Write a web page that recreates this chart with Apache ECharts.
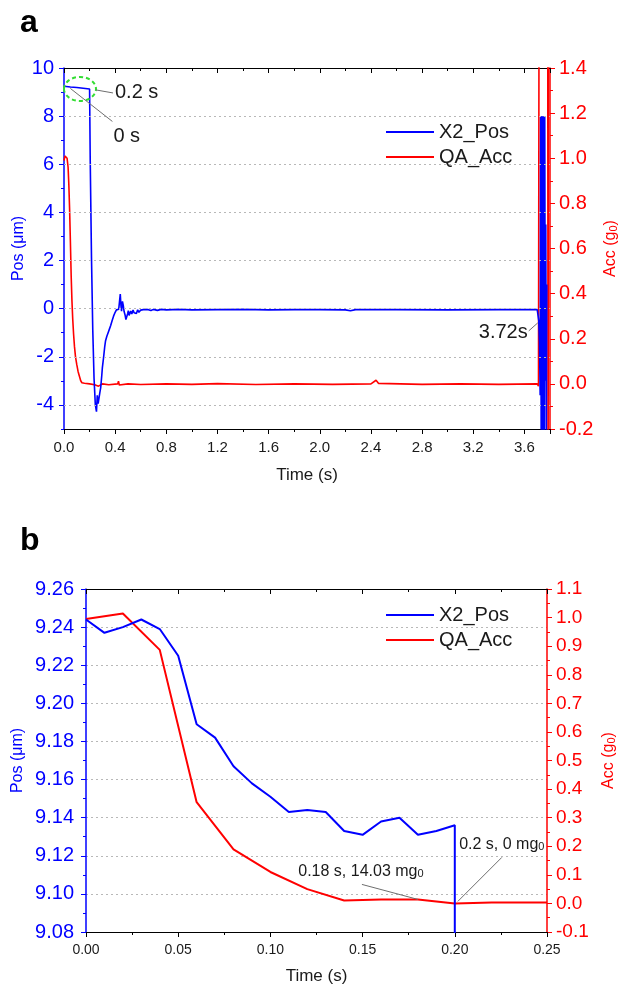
<!DOCTYPE html>
<html><head><meta charset="utf-8">
<script src="https://cdn.jsdelivr.net/npm/echarts@6/dist/echarts.min.js"></script>
<style>html,body{margin:0;padding:0;background:#fff}#c{width:624px;height:988px}</style>
</head><body><div id="c"></div>
<script>
// ---------- Panel a data ----------
const aPosTime = [0,0.05,0.1,0.15,0.2,0.205,0.215,0.225,0.235,0.245,0.254,0.26,0.267,0.274,0.28,0.287,0.295,0.3,0.31,0.318,0.325,0.335,0.345,0.355,0.365,0.376,0.388,0.4,0.41,0.42,0.428,0.435,0.44,0.445,0.45,0.457,0.463,0.47,0.477,0.484,0.49,0.497,0.503,0.509,0.515,0.522,0.53,0.54,0.548,0.556,0.566,0.576,0.586,0.6,0.615,0.63,0.645,0.66,0.68,0.7,0.73,0.76,0.8,0.9,1.0,1.2,1.4,1.6,1.8,2.0,2.2,2.24,2.28,2.6,3.0,3.4,3.7,3.706,3.712,3.718,3.723,3.727,3.731,3.735,3.739,3.743,3.747,3.751,3.755,3.759,3.763,3.767,3.771,3.775];
const aPosVal = [9.24,9.21,9.19,9.16,9.13,6.2,2.1,-0.9,-2.9,-4.0,-4.28,-3.6,-3.95,-3.9,-3.5,-3.28,-2.8,-2.45,-2.0,-1.6,-1.33,-1.15,-1.0,-0.85,-0.7,-0.5,-0.3,-0.15,-0.05,-0.1,-0.02,0.35,0.61,0.15,-0.1,0.3,0.15,-0.12,-0.25,-0.45,-0.5,-0.22,-0.08,-0.28,-0.32,-0.1,-0.22,-0.06,-0.17,-0.09,-0.2,-0.05,-0.15,-0.06,-0.12,-0.03,-0.1,-0.04,-0.08,-0.03,-0.07,-0.03,-0.05,-0.03,-0.05,-0.04,-0.03,-0.05,-0.04,-0.04,-0.05,-0.09,-0.04,-0.04,-0.05,-0.04,-0.04,-0.12,-0.5,-1.4,-3.6,8.0,-5.6,7.5,8.0,-5.6,2.5,8.0,-5.6,8.0,-3.0,3.5,-5.6,1.0];
const aAccTime = [0,0.008,0.016,0.024,0.032,0.038,0.044,0.05,0.056,0.062,0.068,0.075,0.082,0.09,0.1,0.11,0.12,0.13,0.14,0.16,0.2,0.24,0.27,0.3,0.35,0.42,0.426,0.432,0.5,0.6,0.8,1.0,1.2,1.5,1.8,2.1,2.4,2.44,2.46,2.8,3.1,3.4,3.7,3.71,3.712,3.715,3.782,3.785,3.789,3.8];
const aAccVal = [0.99,1.01,1.01,1.0,0.96,0.88,0.77,0.63,0.48,0.37,0.29,0.22,0.165,0.12,0.085,0.055,0.035,0.015,0.005,0.003,0.0,-0.004,-0.01,0.0,-0.004,0.0,0.012,-0.005,0.0,-0.003,0.0,-0.002,0.001,-0.003,0.0,-0.002,0.0,0.016,0.002,-0.002,0.0,-0.002,0.0,-0.01,0.76,2.0,2.0,-0.5,2.0,2.0];
const aPosLabels = [-4,-2,0,2,4,6,8,10];
const aPosMinor = [-5,-3,-1,1,3,5,7,9];
const aPosGrid = [-4,-2,0,2,4,6,8];

// ---------- Panel b data ----------
const bPosTime = [0,0.01,0.02,0.03,0.04,0.05,0.06,0.07,0.08,0.09,0.10,0.11,0.12,0.13,0.14,0.15,0.16,0.17,0.18,0.19,0.20,0.20];
const bPosVal = [9.244,9.237,9.240,9.244,9.239,9.225,9.189,9.182,9.167,9.158,9.151,9.143,9.144,9.143,9.133,9.131,9.138,9.140,9.131,9.133,9.136,9.0];
const bAccTime = [0,0.02,0.04,0.06,0.08,0.10,0.12,0.14,0.16,0.18,0.20,0.22,0.24,0.25];
const bAccVal = [0.995,1.014,0.887,0.354,0.189,0.11,0.05,0.01,0.014,0.014,0.0,0.003,0.003,0.003];

const seriesNames = ['X2_Pos','QA_Acc'];

const FF = "'Liberation Sans', Arial, Helvetica, sans-serif";
const BLUE = '#0000ff', RED = '#ff0000', INK = '#1a1a1a';
const zip = (a,b)=>a.map((t,i)=>[t,b[i]]);
const fx = d => v => (Math.abs(v)<1e-9?0:v).toFixed(d);
const subRich = (fs,color)=>({s:{fontSize:fs,color:color,fontFamily:FF,verticalAlign:'bottom',lineHeight:fs,padding:[Math.round(fs*0.9),0,0,0]}});

const chart = echarts.init(document.getElementById('c'));

function xAxisPair(gi, max, interval, digits, fs, gap) {
  return [
    {gridIndex:gi, type:'value', position:'bottom', min:0, max:max, interval:interval,
     axisLine:{show:true,onZero:false,lineStyle:{color:'#000',width:1.2}},
     axisTick:{show:true,length:5,lineStyle:{color:'#000'}},
     minorTick:{show:true,splitNumber:2,length:3,lineStyle:{color:'#000'}},
     axisLabel:{fontSize:fs,color:INK,margin:11,fontFamily:FF,
       formatter:v=> (v>max-interval/2 && Math.abs(Math.round(v/interval)*interval - v) > 1e-6) ? '' : fx(digits)(v)},
     splitLine:{show:false},
     name:'Time (s)', nameLocation:'middle', nameGap:gap, nameMoveOverlap:false,
     nameTextStyle:{fontSize:17,color:INK,fontFamily:FF}},
    {gridIndex:gi, type:'value', position:'top', min:0, max:max, interval:interval,
     axisLine:{show:true,onZero:false,lineStyle:{color:'#000',width:1.2}},
     axisTick:{show:true,inside:true,length:5,lineStyle:{color:'#000'}},
     minorTick:{show:true,splitNumber:2,length:3,lineStyle:{color:'#000'}},
     axisLabel:{show:false}, splitLine:{show:false}}
  ];
}

const option = {
  animation:false,
  textStyle:{fontFamily:FF},
  grid:[{left:64,top:68,width:486,height:361,containLabel:false,outerBoundsMode:'none'},
        {left:86,top:589,width:461,height:343,containLabel:false,outerBoundsMode:'none'}],
  xAxis:[].concat(xAxisPair(0,3.8,0.4,1,15,38), xAxisPair(1,0.25,0.05,2,14,36)),
  yAxis:[
    {gridIndex:0, type:'value', position:'left', min:-5, max:10, interval:1,
     axisLine:{show:true,onZero:false,lineStyle:{color:BLUE,width:1.5}},
     axisTick:{show:true,length:5,customValues:aPosLabels,lineStyle:{color:BLUE}},
     axisLabel:{color:BLUE,fontSize:20,margin:10,fontFamily:FF,customValues:aPosLabels,
       formatter:v=>{const r=Math.round(v);return (r%2===0 && r>-5)?String(r):'';}},
     splitLine:{show:false},
     name:'Pos (μm)', nameLocation:'middle', nameGap:37, nameRotate:90, nameMoveOverlap:false,
     nameTextStyle:{color:BLUE,fontSize:16,fontFamily:FF}},
    {gridIndex:0, type:'value', position:'right', min:-0.2, max:1.4, interval:0.2,
     axisLine:{show:true,onZero:false,lineStyle:{color:RED,width:1.5}},
     axisTick:{show:true,length:5,lineStyle:{color:RED}},
     minorTick:{show:true,splitNumber:2,length:3,lineStyle:{color:RED}},
     axisLabel:{color:RED,fontSize:20,margin:9,fontFamily:FF,formatter:fx(1)},
     splitLine:{show:false},
     name:'Acc (g{s|0})', nameLocation:'middle', nameGap:53, nameRotate:90, nameMoveOverlap:false,
     nameTextStyle:{color:RED,fontSize:16,fontFamily:FF,rich:subRich(11,RED)}},
    {gridIndex:0, type:'value', position:'left', min:-5, max:10, interval:1,
     axisLine:{show:false,onZero:false},
     axisTick:{show:true,length:3,customValues:aPosMinor,lineStyle:{color:BLUE}},
     axisLabel:{show:false}, splitLine:{show:false}},
    {gridIndex:1, type:'value', position:'left', min:9.08, max:9.26, interval:0.02,
     axisLine:{show:true,onZero:false,lineStyle:{color:BLUE,width:1.5}},
     axisTick:{show:true,length:5,lineStyle:{color:BLUE}},
     minorTick:{show:true,splitNumber:2,length:3,lineStyle:{color:BLUE}},
     axisLabel:{color:BLUE,fontSize:20,margin:12,fontFamily:FF,formatter:fx(2)},
     splitLine:{show:true,lineStyle:{color:'#b8b8b8',type:[2,3],width:1}},
     name:'Pos (μm)', nameLocation:'middle', nameGap:60, nameRotate:90, nameMoveOverlap:false,
     nameTextStyle:{color:BLUE,fontSize:16,fontFamily:FF}},
    {gridIndex:1, type:'value', position:'right', min:-0.1, max:1.1, interval:0.1,
     axisLine:{show:true,onZero:false,lineStyle:{color:RED,width:1.5}},
     axisTick:{show:true,length:5,lineStyle:{color:RED}},
     minorTick:{show:true,splitNumber:2,length:3,lineStyle:{color:RED}},
     axisLabel:{color:RED,fontSize:19,margin:9,fontFamily:FF,formatter:fx(1)},
     splitLine:{show:false},
     name:'Acc (g{s|0})', nameLocation:'middle', nameGap:54, nameRotate:90, nameMoveOverlap:false,
     nameTextStyle:{color:RED,fontSize:16,fontFamily:FF,rich:subRich(11,RED)}}
  ],
  legend:[
    {data:seriesNames, orient:'vertical', left:386, top:122, icon:'rect', itemWidth:48, itemHeight:2, itemGap:5, padding:0, selectedMode:false,
     textStyle:{fontSize:20,lineHeight:20,color:INK,fontFamily:FF}},
    {data:seriesNames, orient:'vertical', left:386, top:605, icon:'rect', itemWidth:48, itemHeight:2, itemGap:5, padding:0, selectedMode:false,
     textStyle:{fontSize:20,lineHeight:20,color:INK,fontFamily:FF}}
  ],
  series:[
    {name:'_gridA', type:'line', xAxisIndex:0, yAxisIndex:0, data:[], silent:true, z:1,
     markLine:{silent:true, symbol:['none','none'], label:{show:false},
       lineStyle:{color:'#b8b8b8',type:[2,3],width:1}, data:aPosGrid.map(v=>({yAxis:v}))}},
    {name:'QA_Acc', type:'line', xAxisIndex:0, yAxisIndex:1, data:zip(aAccTime,aAccVal), symbol:'none', clip:true,
     lineStyle:{color:RED,width:1.6}, itemStyle:{color:RED}, z:2},
    {name:'X2_Pos', type:'line', xAxisIndex:0, yAxisIndex:0, data:zip(aPosTime,aPosVal), symbol:'none', clip:true,
     lineStyle:{color:BLUE,width:1.6}, itemStyle:{color:BLUE}, z:3},
    {name:'QA_Acc', type:'line', xAxisIndex:2, yAxisIndex:4, data:zip(bAccTime,bAccVal), symbol:'none', clip:true,
     lineStyle:{color:RED,width:2}, itemStyle:{color:RED}, z:2},
    {name:'X2_Pos', type:'line', xAxisIndex:2, yAxisIndex:3, data:zip(bPosTime,bPosVal), symbol:'none', clip:true,
     lineStyle:{color:BLUE,width:2}, itemStyle:{color:BLUE}, z:3}
  ]
};
chart.setOption(option);

// ---------- annotations (anchored through the chart's own scales) ----------
const pA = (t,v)=>chart.convertToPixel({seriesIndex:2},[t,v]);
const pB = (t,v)=>chart.convertToPixel({seriesIndex:3},[t,v]);
const lead = (x1,y1,x2,y2)=>({type:'line',silent:true,z:50,shape:{x1,y1,x2,y2},style:{stroke:'#6e6e6e',lineWidth:1}});
const txt = (x,y,text,fs,align,extra)=>({type:'text',silent:true,z:50,x,y,style:Object.assign({text,fill:INK,fontSize:fs,fontFamily:FF,align:align,verticalAlign:'middle'},extra||{})});

const c = pA(0.125, 9.13);
const p0 = pA(0.05, 9.15);
const p372 = pA(3.712, -0.55);
const q1 = pB(0.18, 0.014);
const q2 = pB(0.2, 0.0);

const graphics = [
  {type:'ellipse', silent:true, z:50, shape:{cx:c[0],cy:c[1],rx:16,ry:12}, style:{fill:null,stroke:'#33dd33',lineWidth:2,lineDash:[4,3]}},
  lead(c[0]+16,c[1]+1,c[0]+33,c[1]+4),
  txt(c[0]+35,c[1]+4,'0.2 s',20,'left'),
  lead(p0[0],p0[1],p0[0]+42,p0[1]+33),
  txt(p0[0]+43,p0[1]+48,'0 s',20,'left'),
  lead(p372[0]-1,p372[1]+1,p372[0]-10,p372[1]+9),
  txt(p372[0]-11,p372[1]+11,'3.72s',20,'right'),
  lead(q1[0],q1[1],q1[0]-56,q1[1]-15),
  txt(q1[0]-57,q1[1]-28,'0.18 s, 14.03 mg{s|0}',16,'center',{rich:subRich(11,INK)}),
  lead(q2[0]+3,q2[1]-2,q2[0]+47,q2[1]-46),
  txt(q2[0]+47,q2[1]-59,'0.2 s, 0 mg{s|0}',16,'center',{rich:subRich(11,INK)}),
  {type:'text',silent:true,z:50,x:20,y:23,style:{text:'a',fill:'#000',fontSize:32,fontWeight:'bold',fontFamily:FF,verticalAlign:'middle'}},
  {type:'text',silent:true,z:50,x:20,y:541,style:{text:'b',fill:'#000',fontSize:32,fontWeight:'bold',fontFamily:FF,verticalAlign:'middle'}}
];
chart.setOption({graphic:graphics});
</script>
</body></html>
